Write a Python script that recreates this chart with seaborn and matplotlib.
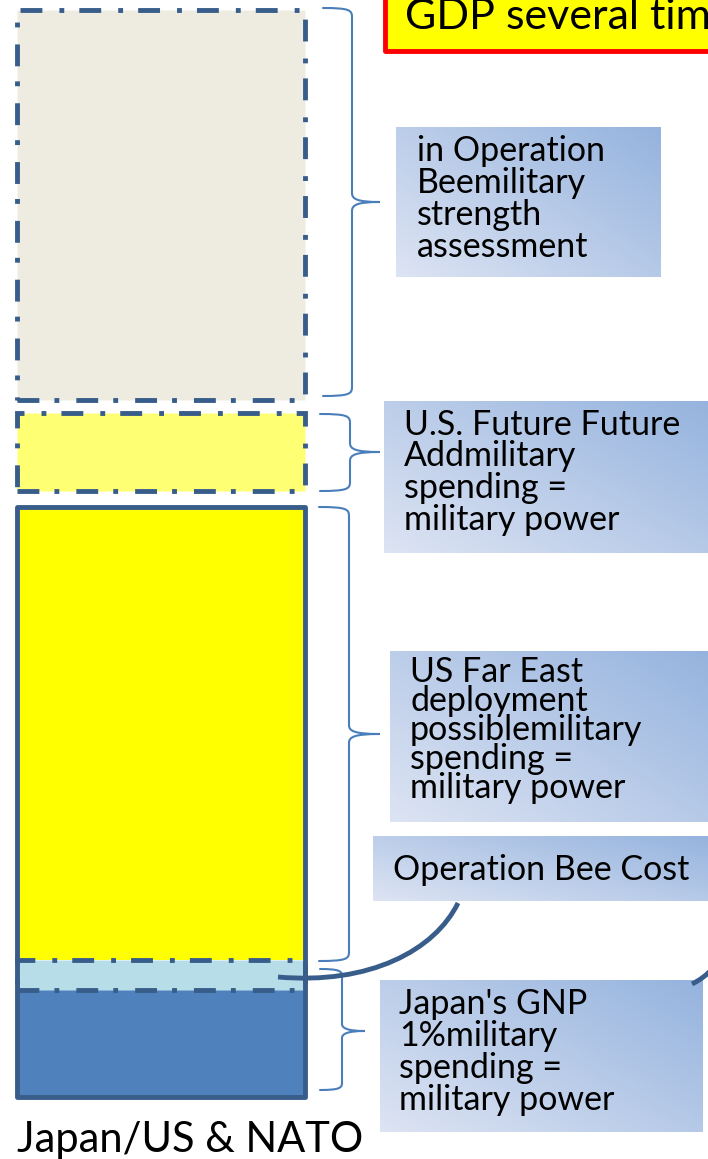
import numpy as np
import matplotlib
matplotlib.use("Agg")
import matplotlib.pyplot as plt
import seaborn as sns
from matplotlib.patches import Rectangle, PathPatch
from matplotlib.path import Path

# ---------------- data ----------------
category = "Japan/US & NATO"
segment_names = [
    "Japan's GNP 1% military spending",
    "Operation Bee Cost",
    "US Far East deployment possible military spending",
    "U.S. Future Add military spending",
    "Operation Bee military strength assessment",
]
segment_values = [107, 30, 453, 78, 390]

title_text = "GDP several times"
label_assessment = ["in Operation", "Beemilitary", "strength", "assessment"]
label_future = ["U.S. Future Future", "Addmilitary", "spending =", "military power"]
label_fareast = ["US Far East", "deployment", "possiblemilitary", "spending =", "military power"]
label_beecost = ["Operation Bee Cost"]
label_japan = ["Japan's GNP", "1%military", "spending =", "military power"]

# ---------------- style / layout ----------------
W, H = 708, 1159
sns.set_theme(style="white")
plt.rcParams["font.family"] = ["Lato", "DejaVu Sans"]

FILLS = ["#4F81BD", "#B7DEE8", "#FFFF00", "#FFFF73", "#EEECE1"]
DASHED = [False, True, False, True, True]
ZORD = [1, 2, 1, 2, 2]
GAPS_BEFORE = [0, 0, 0, 16, 13]       # white gaps (px) between stacked blocks
EDGE = "#385D8A"
BRACE = "#4A7EBB"
LW = 3.5
DASHDOT = (0, (4.5, 3.1, 1.0, 3.5))
BAR_LEFT_PX, BAR_W_PX, BASE_PX = 17, 288, 1097

fig = plt.figure(figsize=(W / 100, H / 100), dpi=100)
ax = fig.add_axes([0, 0, 1, 1])

bottom = 0
for i, v in enumerate(segment_values):
    bottom += GAPS_BEFORE[i]
    kw = dict(edgecolor=EDGE, linewidth=LW, linestyle=DASHDOT) if DASHED[i] else dict(linewidth=0)
    sns.barplot(x=[category], y=[v], bottom=bottom, width=1.0, color=FILLS[i],
                saturation=1, errorbar=None, zorder=ZORD[i], ax=ax, **kw)
    bottom += v

# solid outline around the three firm blocks
sns.barplot(x=[category], y=[sum(segment_values[:3])], width=1.0, fill=False,
            color=EDGE, saturation=1, errorbar=None, linewidth=LW, zorder=3,
            joinstyle="round", ax=ax)

ax.set_xlim(-0.5 - BAR_LEFT_PX / BAR_W_PX, -0.5 + (W - BAR_LEFT_PX) / BAR_W_PX)
ax.set_ylim(BASE_PX - H, BASE_PX)
ax.set_axis_off()

# ---------------- annotation layer (pixel coordinates) ----------------
ann = fig.add_axes([0, 0, 1, 1], zorder=5)
ann.set_axis_off()

light = np.array([221, 228, 243]) / 255
dark = np.array([149, 179, 222]) / 255
nx, ny = 120, 60
u = np.linspace(0, 1, nx)[None, :]
vv = np.linspace(1, 0, ny)[:, None]
t = np.clip((0.55 * u + 0.45 * vv), 0, 1)
grad = light[None, None, :] + (dark - light)[None, None, :] * t[:, :, None]

BODY_FS = 24.5


def label_box(x0, y0, x1, y1, lines, tx, baselines, fs=BODY_FS):
    ann.imshow(grad, extent=(x0, x1, y1, y0), aspect="auto", interpolation="bilinear",
               zorder=1)
    for ln, by in zip(lines, baselines):
        ann.text(tx, by, ln, ha="left", va="baseline", fontsize=fs, color="black",
                 zorder=4, clip_on=True)


label_box(396, 127, 661, 277, label_assessment, 417, [161, 193, 225, 257])
label_box(384, 401, 712, 553, label_future, 404, [435, 466, 498, 530])
label_box(390, 651, 712, 822, label_fareast, 410, [682, 711, 740, 769, 798])
label_box(373, 836, 712, 901, label_beecost, 393, [880])
label_box(380, 980, 703, 1132, label_japan, 399, [1014, 1046, 1078, 1110])


def brace(x_end, x_mid, x_tip, y_top, y_tip, y_bot, r=9):
    verts = [
        (x_end, y_top),
        (x_mid - 3, y_top), (x_mid, y_top + 2), (x_mid, y_top + r),
        (x_mid, y_tip - r),
        (x_mid, y_tip - 3), (x_mid + 5, y_tip), (x_tip, y_tip),
        (x_mid + 5, y_tip), (x_mid, y_tip + 3), (x_mid, y_tip + r),
        (x_mid, y_bot - r),
        (x_mid, y_bot - 2), (x_mid - 3, y_bot), (x_end, y_bot),
    ]
    codes = [Path.MOVETO] + [Path.CURVE4] * 3 + [Path.LINETO] + [Path.CURVE4] * 6 + \
            [Path.LINETO] + [Path.CURVE4] * 3
    ann.add_patch(PathPatch(Path(verts, codes), fill=False, edgecolor=BRACE, lw=1.5,
                            zorder=3, capstyle="round"))


brace(323, 352, 380, 8, 202, 396)
brace(320, 350, 380, 414, 452, 491)
brace(319, 349, 380, 507, 734, 961)
brace(320, 342, 365, 969, 1031, 1090, r=7)

# callout connector from the Operation Bee cost block
cv = [(278, 977), (370, 985), (435, 950), (458, 903)]
ann.add_patch(PathPatch(Path(cv, [Path.MOVETO] + [Path.CURVE4] * 3), fill=False,
                        edgecolor=EDGE, lw=LW, zorder=3, capstyle="butt"))
cv2 = [(692, 984), (700, 980), (707, 975), (714, 967)]
ann.add_patch(PathPatch(Path(cv2, [Path.MOVETO] + [Path.CURVE4] * 3), fill=False,
                        edgecolor=EDGE, lw=LW, zorder=3, capstyle="butt"))

# title box (cut by the figure edge, as in the reference)
ann.add_patch(Rectangle((385, -20), 400, 71, facecolor="#FFFF00", edgecolor="#FF0000",
                        lw=3.5, zorder=3, clip_on=True, joinstyle="round"))
ann.text(405, 29, title_text, ha="left", va="baseline", fontsize=31, color="black",
         zorder=4, clip_on=True)

# category label under the bar
ann.text(17, 1152, category, ha="left", va="baseline", fontsize=30, color="black",
         zorder=4, clip_on=True)

ann.set_xlim(0, W)
ann.set_ylim(H, 0)

fig.savefig("out.png", dpi=100)
